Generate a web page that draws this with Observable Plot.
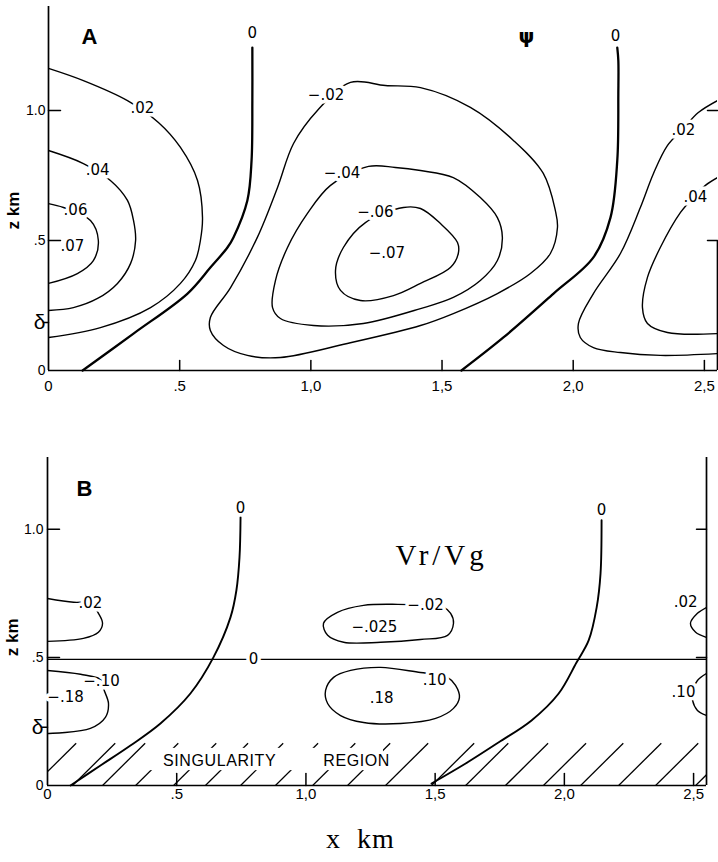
<!DOCTYPE html>
<html><head><meta charset="utf-8">
<script src="https://cdn.jsdelivr.net/npm/d3@7"></script>
<script src="https://cdn.jsdelivr.net/npm/@observablehq/plot@0.6"></script>
<style>
body{margin:0;background:#fff;}
#chart{position:relative;width:718px;height:862px;overflow:hidden;background:#fff;}
#a{position:absolute;left:0;top:0;}
#b{position:absolute;left:0;top:440px;}
</style></head><body><div id="chart"><div id="a"></div><div id="b"></div></div>
<script>
// ---------- axes ----------
const xMax = 2.55, zTopA = 1.4, zTopB = 1.28;
const xTickValues = [0, 0.5, 1, 1.5, 2, 2.5];
const xTickLabels = ["0", ".5", "1,0", "1,5", "2,0", "2,5"];
const yTickLabels = ["0", "δ", ".5", "1.0"];
const yTickValuesA = [0, 0.185, 0.5, 1.0];
const yTickValuesB = [0, 0.227, 0.5, 1.0];
const rightAxisTopA = 0.5;

// ---------- panel A : stream function psi, contours [x km, z km] ----------
const aPos02Left = [[0,1.162],[0.133,1.115],[0.301,1.038],[0.419,0.954],[0.503,0.858],[0.568,0.731],[0.587,0.588],[0.579,0.5],[0.56,0.423],[0.503,0.335],[0.389,0.242],[0.198,0.165],[0,0.127]];
const aPos04Left = [[0,0.846],[0.133,0.796],[0.236,0.731],[0.301,0.654],[0.324,0.577],[0.332,0.5],[0.313,0.412],[0.263,0.335],[0.187,0.277],[0.095,0.242],[0,0.231]];
const aPos06Left = [[0,0.642],[0.057,0.627],[0.16,0.577],[0.19,0.5],[0.171,0.423],[0.11,0.373],[0,0.335]];
const aZeroLeft = [[0.130,0],[0.324,0.142],[0.530,0.296],[0.617,0.396],[0.682,0.473],[0.705,0.512],[0.758,0.654],[0.774,0.808],[0.777,1.038],[0.777,1.242]];
const aNeg02 = [[1.151,1.108],[1.284,1.096],[1.418,1.088],[1.608,1.012],[1.772,0.885],[1.886,0.758],[1.932,0.615],[1.94,0.55],[1.913,0.45],[1.837,0.373],[1.711,0.296],[1.543,0.219],[1.418,0.173],[1.139,0.104],[0.884,0.05],[0.758,0.058],[0.667,0.096],[0.617,0.154],[0.617,0.204],[0.694,0.319],[0.796,0.512],[0.873,0.704],[0.934,0.873],[1.025,1.0]];
const aNeg04 = [[1.22,0.785],[1.322,0.781],[1.418,0.769],[1.543,0.742],[1.646,0.665],[1.711,0.588],[1.73,0.512],[1.711,0.423],[1.646,0.346],[1.543,0.281],[1.418,0.238],[1.2,0.181],[1.01,0.173],[0.884,0.2],[0.854,0.242],[0.865,0.346],[0.911,0.473],[0.987,0.604],[1.075,0.712]];
const aNeg06 = [[1.353,0.627],[1.418,0.623],[1.494,0.565],[1.559,0.492],[1.562,0.45],[1.532,0.396],[1.418,0.335],[1.315,0.288],[1.189,0.269],[1.113,0.308],[1.094,0.385],[1.124,0.473],[1.208,0.569]];
const aZeroRight = [[1.574,0],[1.734,0.127],[1.925,0.296],[2.077,0.435],[2.142,0.588],[2.168,0.808],[2.172,1.065],[2.172,1.192],[2.168,1.242]];
const aPos02Right = [[2.55,0.065],[2.332,0.058],[2.18,0.069],[2.077,0.088],[2.027,0.127],[2.02,0.181],[2.077,0.296],[2.18,0.45],[2.256,0.627],[2.306,0.758],[2.359,0.865],[2.42,0.931],[2.477,0.992],[2.55,1.038]];
const aPos04Right = [[2.55,0.142],[2.359,0.146],[2.283,0.181],[2.264,0.242],[2.283,0.358],[2.332,0.473],[2.409,0.608],[2.458,0.665],[2.504,0.712],[2.55,0.742]];
const aLabelText = [".02", ".04", ".06", ".07", "0", "−.02", "−.04", "−.06", "−.07", "0", ".02", ".04"];
const aLabelX    = [0.358, 0.187, 0.103, 0.091, 0.777, 1.058, 1.119, 1.246, 1.29, 2.161, 2.42, 2.466];
const aLabelZ    = [1.008, 0.769, 0.615, 0.477, 1.296, 1.058, 0.758, 0.608, 0.45, 1.285, 0.923, 0.665];

// ---------- panel B : Vr/Vg ----------
const bZeroLeft = [[0.747,1.047],[0.743,0.891],[0.731,0.762],[0.708,0.656],[0.642,0.5],[0.553,0.359],[0.437,0.242],[0.321,0.156],[0.205,0.078],[0.089,0]];
const bZeroRight = [[2.144,1.035],[2.140,0.828],[2.125,0.695],[2.094,0.566],[2.047,0.48],[1.978,0.359],[1.873,0.254],[1.745,0.168],[1.618,0.086],[1.486,0.008]];
const bZeroLevel = 0.492;
const bPos02Left = [[0,0.73],[0.101,0.715],[0.166,0.711],[0.197,0.672],[0.213,0.633],[0.197,0.598],[0.139,0.574],[0,0.5625]];
const bNeg10Left = [[0,0.449],[0.128,0.434],[0.213,0.41],[0.217,0.379],[0.236,0.32],[0.224,0.266],[0.166,0.223],[0,0.203]];
const bNeg02Mid = [[1.355,0.707],[1.223,0.703],[1.122,0.676],[1.068,0.633],[1.084,0.586],[1.146,0.559],[1.289,0.559],[1.443,0.57],[1.548,0.586],[1.571,0.633],[1.56,0.672],[1.533,0.695],[1.455,0.703]];
const bPos10Mid = [[1.443,0.441],[1.289,0.461],[1.173,0.449],[1.107,0.422],[1.076,0.371],[1.084,0.32],[1.134,0.273],[1.223,0.246],[1.366,0.242],[1.502,0.262],[1.571,0.301],[1.594,0.344],[1.579,0.391],[1.548,0.422],[1.502,0.434]];
const bPos02Right = [[2.55,0.695],[2.515,0.672],[2.488,0.633],[2.508,0.598],[2.55,0.578]];
const bPos10Right = [[2.55,0.4375],[2.515,0.41],[2.496,0.371],[2.496,0.332],[2.515,0.293],[2.55,0.273]];
const bLabelText = [".02", "−.10", "−.18", "0", "0", "−.02", "−.025", ".10", ".18", "0", ".02", ".10"];
const bLabelX    = [0.166, 0.209, 0.07, 0.747, 0.797, 1.463, 1.265, 1.498, 1.293, 2.144, 2.469, 2.461];
const bLabelZ    = [0.711, 0.406, 0.344, 1.082, 0.492, 0.703, 0.617, 0.41, 0.34, 1.074, 0.715, 0.363];
// singularity region hatching: x where each hatch stroke meets z = 0
const hatchStartsB = [-0.054, 0.097, 0.213, 0.341, 0.488, 0.611, 0.747, 0.882, 1.026, 1.161, 1.308, 1.486, 1.618, 1.772, 1.919, 2.063, 2.210, 2.353, 2.508];
const hatchRun = 0.165, hatchRise = 0.165;
const regionText = ["SINGULARITY", "REGION"];
const regionX = [0.666, 1.196];
const regionZ = [0.098, 0.098];
// lettering band that interrupts the hatching
const regionBand = [{x1: 0.38, x2: 1.3, z1: 0.058, z2: 0.145}];

// ---------- helpers ----------
const rows = (id, pts) => pts.map(([x, z]) => ({id, x, z}));
const labelRows = (t, xs, zs) => t.map((s, i) => ({t: s, x: xs[i], z: zs[i]}));
const tickShape = {draw(ctx, l) { ctx.moveTo(0, 0); ctx.lineTo(0, -l); }};
const sans = "'Liberation Sans', Arial, sans-serif";
const labelFont = "'DejaVu Sans', sans-serif";
const serif = "'Liberation Serif', 'DejaVu Serif', serif";

function axisMarks(yTickValues, opts) {
  return [
    Plot.ruleX([0], {strokeWidth: 1.7}),
    Plot.ruleY([0], {strokeWidth: 1.7}),
    Plot.vector(xTickValues.slice(1), {x: d => d, y: () => 0, length: opts.xTickLen, anchor: "start", shape: tickShape, strokeWidth: 1.5}),
    Plot.vector([yTickValues[2], yTickValues[3]], {x: () => 0, y: d => d, length: 12, rotate: 90, anchor: "start", shape: tickShape, strokeWidth: 1.5}),
    Plot.vector([yTickValues[1]], {x: () => 0, y: d => d, length: 5, rotate: -90, anchor: "start", shape: tickShape, strokeWidth: 1.5}),
    Plot.vector([0.5, 1.0], {x: () => xMax, y: d => d, length: 10, rotate: -90, anchor: "start", shape: tickShape, strokeWidth: 1.5}),
    Plot.text(xTickValues, {x: d => d, y: () => 0, text: (d, i) => xTickLabels[i], dy: opts.xLabelDy, fontSize: 15, fontFamily: sans, fill: "black"}),
    Plot.text(yTickValues, {x: () => 0, y: d => d, text: (d, i) => yTickLabels[i], textAnchor: "end", dx: (opts.yDx), fontSize: (d, i) => i === 1 ? 21 : 14, fontFamily: sans, fill: "black"})
  ];
}
const halo = {fill: "black", stroke: "white", strokeWidth: 7, paintOrder: "stroke", strokeLinejoin: "round"};

// ---------- panel A ----------
const aOpen = [...rows("p02L", aPos02Left), ...rows("p04L", aPos04Left), ...rows("p06L", aPos06Left), ...rows("p02R", aPos02Right), ...rows("p04R", aPos04Right)];
const aClosed = [...rows("n02", aNeg02), ...rows("n04", aNeg04), ...rows("n06", aNeg06)];
const aZero = [...rows("zL", aZeroLeft), ...rows("zR", aZeroRight)];

const plotA = Plot.plot({
  width: 718, height: 400, marginLeft: 48, marginRight: 1, marginTop: 6, marginBottom: 30,
  x: {domain: [0, xMax], axis: null}, y: {domain: [0, zTopA], axis: null},
  style: {fontFamily: sans, background: "white", overflow: "visible", color: "black"},
  marks: [
    ...axisMarks(yTickValuesA, {xTickLen: 10, xLabelDy: 16, yDx: -3}),
    Plot.ruleX([xMax], {y1: () => 0, y2: () => rightAxisTopA, strokeWidth: 1.7}),
    Plot.line(aOpen, {x: "x", y: "z", z: "id", curve: "catmull-rom", strokeWidth: 1.4, clip: true}),
    Plot.line(aClosed, {x: "x", y: "z", z: "id", curve: "catmull-rom-closed", strokeWidth: 1.4}),
    Plot.line(aZero, {x: "x", y: "z", z: "id", curve: "catmull-rom", strokeWidth: 2.3}),
    Plot.text(labelRows(aLabelText, aLabelX, aLabelZ), {x: "x", y: "z", text: "t", fontSize: 15, fontFamily: labelFont, ...halo}),
    Plot.text(["ψ"], {x: () => 1.822, y: () => 1.285, text: d => d, fontSize: 20, fontWeight: "bold", fontFamily: labelFont, fill: "black"}),
    Plot.text(["A"], {frameAnchor: "top-left", dx: 33, dy: 22, text: d => d, fontSize: 22, fontWeight: "bold", fontFamily: sans, fill: "black"}),
    Plot.text([0.615], {x: () => 0, y: d => d, text: () => "z km", rotate: -90, dx: -35, fontSize: 17, fontWeight: "bold", fontFamily: sans, fill: "black"})
  ]
});
document.getElementById("a").append(plotA);

// ---------- panel B ----------
const bOpen = [...rows("p02L", bPos02Left), ...rows("n10L", bNeg10Left), ...rows("p02R", bPos02Right), ...rows("p10R", bPos10Right)];
const bClosed = [...rows("n02M", bNeg02Mid), ...rows("p10M", bPos10Mid)];
const bZero = [...rows("zL", bZeroLeft), ...rows("zR", bZeroRight)];

const plotB = Plot.plot({
  width: 718, height: 422, marginLeft: 47, marginRight: 12, marginTop: 17, marginBottom: 77,
  x: {domain: [0, xMax], axis: null}, y: {domain: [0, zTopB], axis: null},
  style: {fontFamily: sans, background: "white", overflow: "visible", color: "black"},
  marks: [
    Plot.link(hatchStartsB, {x1: d => d, y1: () => 0, x2: d => d + hatchRun, y2: () => hatchRise, strokeWidth: 1.3, clip: true}),
    Plot.rect(regionBand, {x1: "x1", x2: "x2", y1: "z1", y2: "z2", fill: "white"}),
    Plot.text(regionText.map((t, i) => ({t, x: regionX[i], z: regionZ[i]})), {x: "x", y: "z", text: "t", fontSize: 16, fontFamily: sans, fill: "black"}),
    ...axisMarks(yTickValuesB, {xTickLen: 12, xLabelDy: 9, yDx: -4}),
    Plot.ruleX([xMax], {strokeWidth: 1.7}),
    Plot.ruleY([bZeroLevel], {strokeWidth: 1.3}),
    Plot.line(bOpen, {x: "x", y: "z", z: "id", curve: "catmull-rom", strokeWidth: 1.4, clip: true}),
    Plot.line(bClosed, {x: "x", y: "z", z: "id", curve: "catmull-rom-closed", strokeWidth: 1.4}),
    Plot.line(bZero, {x: "x", y: "z", z: "id", curve: "catmull-rom", strokeWidth: 1.9}),
    Plot.text(labelRows(bLabelText, bLabelX, bLabelZ), {x: "x", y: "z", text: "t", fontSize: 15, fontFamily: labelFont, ...halo}),
    Plot.text(["Vr/Vg"], {x: () => 1.525, y: () => 0.898, text: d => d, fontSize: 29, fontFamily: serif, fill: "black"}),
    Plot.text(["B"], {frameAnchor: "top-left", dx: 29, dy: 23, text: d => d, fontSize: 22, fontWeight: "bold", fontFamily: sans, fill: "black"}),
    Plot.text([0.578], {x: () => 0, y: d => d, text: () => "z km", rotate: -90, dx: -34.5, fontSize: 17, fontWeight: "bold", fontFamily: sans, fill: "black"}),
    Plot.text(["x  km"], {frameAnchor: "bottom", x: () => 1.211, text: d => d, dy: 62, fontSize: 28, fontFamily: serif, fill: "black"})
  ]
});
document.getElementById("b").append(plotB);

// letter spacing for the lettered captions
for (const t of document.querySelectorAll("svg text")) {
  const s = t.textContent;
  if (s === "SINGULARITY" || s === "REGION") t.style.letterSpacing = "0.6px";
  if (s === "Vr/Vg") t.style.letterSpacing = "4px";
  if (s === "x  km") t.style.letterSpacing = "1px";
}
</script>
</body></html>
